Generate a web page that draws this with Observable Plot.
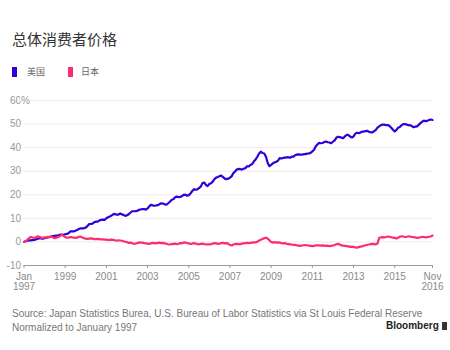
<!DOCTYPE html>
<html><head><meta charset="utf-8">
<script src="https://cdn.jsdelivr.net/npm/d3@7"></script>
<script src="https://cdn.jsdelivr.net/npm/@observablehq/plot@0.6"></script>
<style>
body{margin:0;background:#fff;}
#wrap{position:relative;width:450px;height:350px;overflow:hidden;font-family:"Liberation Sans Narrow","Arial Narrow","Liberation Sans",Arial,sans-serif;}
#title{position:absolute;left:12px;top:31px;font-family:"Noto Sans CJK SC",sans-serif;font-size:15px;line-height:15px;color:#333;white-space:nowrap;}
.leg{position:absolute;top:67px;font-family:"Noto Sans CJK SC",sans-serif;font-size:9px;line-height:9px;color:#666;white-space:nowrap;}
.sw{position:absolute;top:67px;width:5px;height:10px;}
#chart{position:absolute;left:0;top:88px;}
#src{position:absolute;left:12px;top:307px;font-size:10px;line-height:14px;color:#777;white-space:nowrap;}
#logo{position:absolute;left:386px;top:321px;font-size:10px;line-height:10px;font-weight:bold;color:#222;white-space:nowrap;}
#logo span{display:inline-block;width:5px;height:8px;background:#333;margin-left:3px;vertical-align:-1px;}
</style>
</head><body>
<div id="wrap">
  <div id="title">总体消费者价格</div>
  <div class="sw" style="left:12px;background:#2f00d7"></div>
  <div class="leg" style="left:27px">美国</div>
  <div class="sw" style="left:68px;background:#ff2c6c"></div>
  <div class="leg" style="left:81px">日本</div>
  <div id="chart"></div>
  <div id="src">Source: Japan Statistics Burea, U.S. Bureau of Labor Statistics via St Louis Federal Reserve<br>Normalized to January 1997</div>
  <div id="logo">Bloomberg<span></span></div>
</div>
<script>
// US CPI-U index, monthly Jan 1997 – Nov 2016 (normalized to Jan 1997 below)
const usCPI = [
159.1,159.6,160.0,160.2,160.1,160.3,160.5,160.8,161.2,161.6,161.5,161.3,
161.6,161.9,162.2,162.5,162.8,163.0,163.2,163.4,163.6,164.0,164.0,163.9,
164.3,164.5,165.0,166.2,166.2,166.2,166.7,167.1,167.9,168.2,168.3,168.3,
168.8,169.8,171.2,171.3,171.5,172.4,172.8,172.8,173.7,174.0,174.1,174.0,
175.1,175.8,176.2,176.9,177.7,178.0,177.5,177.5,178.3,177.7,177.4,176.7,
177.1,177.8,178.8,179.8,179.8,179.9,180.1,180.7,181.0,181.3,181.3,180.9,
181.7,183.1,184.2,183.8,183.5,183.7,183.9,184.6,185.2,185.0,184.5,184.3,
185.2,186.2,187.4,188.0,189.1,189.7,189.4,189.5,189.9,190.9,191.0,190.3,
190.7,191.8,193.3,194.6,194.4,194.5,195.4,196.4,198.8,199.2,197.6,196.8,
198.3,198.7,199.8,201.5,202.5,202.9,203.5,203.9,202.9,201.8,201.5,201.8,
202.4,203.5,205.4,206.7,207.9,208.4,208.3,207.9,208.5,208.9,210.2,210.0,
211.1,211.7,213.5,214.8,216.6,218.8,220.0,219.1,218.8,216.6,212.4,210.2,
211.1,212.2,212.7,213.2,213.9,215.7,215.4,215.8,216.0,216.2,216.3,215.9,
216.7,216.7,217.6,218.0,218.2,218.0,218.0,218.3,218.4,218.7,218.8,219.2,
220.2,221.3,223.5,224.9,226.0,225.7,225.9,226.5,226.9,226.4,226.2,225.7,
226.7,227.7,229.4,230.1,229.8,229.5,229.1,230.4,231.4,231.3,230.2,229.6,
230.3,232.2,232.8,232.5,232.9,233.5,233.6,233.9,234.1,233.5,233.1,233.0,
233.9,234.8,236.3,237.1,237.9,238.3,238.3,237.9,238.0,237.4,236.2,234.8,
233.7,234.7,236.1,236.6,237.8,238.6,238.7,238.3,237.9,237.8,237.3,236.5,
236.9,237.1,238.1,239.3,240.2,241.0,240.6,240.8,241.4,241.7,241.4
];
// Japan CPI, % change since Jan 1997, monthly
const jpPct = [
0,0.4,0.9,1.6,2.1,1.9,1.7,2.0,2.4,2.2,1.8,1.7,
2.0,1.8,2.2,2.0,2.3,1.9,1.6,1.8,2.1,2.5,2.9,2.6,
2.1,1.8,1.8,2.0,2.0,1.8,1.7,1.8,2.2,2.3,1.9,1.6,
1.4,1.3,1.4,1.5,1.4,1.2,1.2,1.3,1.2,1.1,1.1,1.0,
1.0,0.8,0.9,1.0,0.9,0.7,0.5,0.7,0.6,0.5,0.3,0.1,
-0.1,-0.4,-0.3,-0.5,-0.8,-0.7,-0.5,-0.2,-0.3,-0.3,-0.5,-0.6,
-0.7,-0.9,-0.6,-0.4,-0.5,-0.6,-0.4,-0.3,-0.5,-0.4,-0.6,-0.8,
-1.0,-1.1,-0.9,-0.8,-0.7,-0.9,-0.8,-0.5,-0.6,-0.3,-0.2,-0.5,
-0.6,-0.8,-0.7,-0.5,-0.7,-0.9,-1.0,-0.8,-0.7,-0.9,-1.1,-1.0,
-1.0,-0.9,-0.7,-0.5,-0.6,-0.8,-0.7,-0.5,-0.4,-0.6,-0.5,-0.7,
-1.3,-1.5,-1.1,-0.9,-0.8,-0.9,-1.0,-0.7,-0.6,-0.5,-0.4,-0.5,
-0.4,-0.3,-0.2,-0.2,0.1,0.6,0.9,1.3,1.6,1.8,1.4,0.7,
0.0,-0.3,-0.1,-0.3,-0.2,-0.3,-0.5,-0.6,-0.5,-0.8,-0.9,-1.0,
-1.1,-1.3,-1.2,-1.5,-1.6,-1.7,-1.5,-1.4,-1.3,-1.4,-1.6,-1.7,
-1.8,-1.7,-1.5,-1.4,-1.5,-1.6,-1.5,-1.6,-1.7,-1.6,-1.8,-1.7,
-1.5,-1.3,-1.0,-0.8,-1.1,-1.5,-1.6,-1.7,-1.8,-1.9,-2.1,-2.0,
-2.1,-2.3,-2.4,-2.2,-2.0,-1.9,-1.6,-1.4,-1.2,-1.1,-0.9,-0.8,
-0.9,-1.0,-0.7,1.7,1.9,2.0,1.9,2.1,2.3,2.2,2.0,1.8,
1.7,1.5,1.8,2.2,2.4,2.3,2.1,2.2,2.4,2.3,2.1,2.0,
1.9,1.7,1.8,2.0,2.2,2.1,1.9,2.0,2.2,2.3,2.7
];
const yTicks = [-10, 0, 10, 20, 30, 40, 50, 60];
const xTickYears = [1997, 1999, 2001, 2003, 2005, 2007, 2009, 2011, 2013, 2015];
const lastLabel = "Nov\n2016";
const firstLabel = "Jan\n1997";

const months = usCPI.map((_, i) => new Date(Date.UTC(1997, i, 1)));
const base = usCPI[0];
const us = usCPI.map((v, i) => ({date: months[i], value: (v / base - 1) * 100}));
const jp = jpPct.map((v, i) => ({date: months[i], value: v}));
const xTicks = xTickYears.map(y => new Date(Date.UTC(y, 0, 1))).concat([months[months.length - 1]]);
const fmtX = d => {
  if (+d === +xTicks[0]) return firstLabel;
  if (+d === +xTicks[xTicks.length - 1]) return lastLabel;
  return String(d.getUTCFullYear());
};
const font = '"Liberation Sans Narrow","Arial Narrow","Liberation Sans",Arial,sans-serif';

const chart = Plot.plot({
  width: 450, height: 207,
  marginTop: 12, marginBottom: 30, marginLeft: 23.5, marginRight: 18,
  x: {type: "utc", domain: [months[0], months[months.length - 1]], label: null},
  y: {domain: [-10, 60], label: null},
  style: {fontFamily: font, fontSize: "10px", background: "transparent", overflow: "visible"},
  marks: [
    Plot.gridY(yTicks.filter(t => t > -10), {stroke: "#ececec", strokeOpacity: 1}),
    Plot.ruleY([-10], {stroke: "#999"}),
    Plot.axisX(xTicks, {tickSize: 3, tickPadding: 4, tickFormat: fmtX, color: "#999", fill: "#8a8a8a"}),
    Plot.axisY(yTicks, {tickSize: 0, tickPadding: 3, tickFormat: d => String(d), fill: "#999"}),
    Plot.text([60], {x: months[0], y: d => d, text: () => "%", textAnchor: "start", dx: -3, fill: "#999", stroke: "white", strokeWidth: 3}),
    Plot.line(us, {x: "date", y: "value", stroke: "#2f00d7", strokeWidth: 2.2}),
    Plot.line(jp, {x: "date", y: "value", stroke: "#ff2c6c", strokeWidth: 2.2})
  ]
});
document.getElementById("chart").appendChild(chart);
</script>
</body></html>
